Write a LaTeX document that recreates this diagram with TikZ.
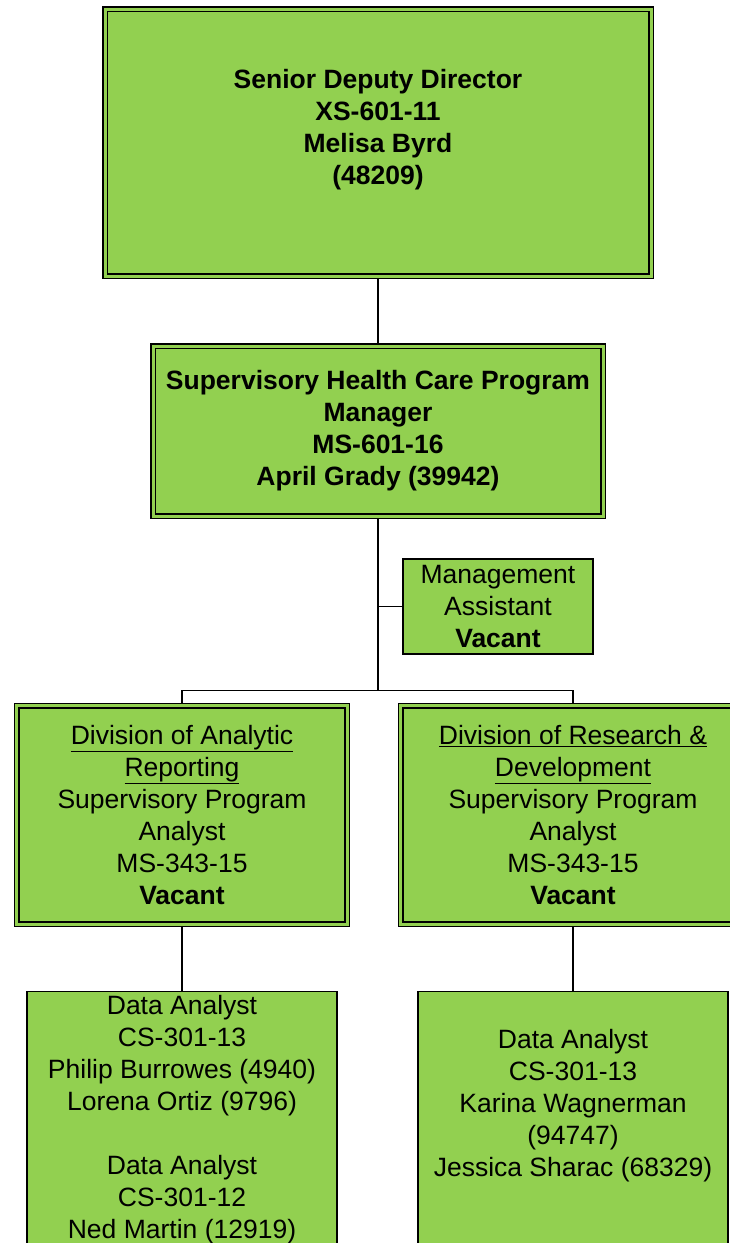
\documentclass[tikz,border=0pt]{standalone}
\usepackage{fontspec}
\setmainfont{Liberation Sans}
\usetikzlibrary{positioning,backgrounds}
\definecolor{boxgreen}{HTML}{92D050}

\begin{document}
\begin{tikzpicture}[x=1pt,y=1pt,
    font=\fontsize{26.5}{32}\selectfont,
    box/.style={draw,fill=boxgreen,line width=1.4pt,align=center,inner sep=0pt,outer sep=0pt},
    dbox/.style={box,double=boxgreen,double distance=3pt,line width=1.3pt},
    bold/.style={font=\fontsize{26.5}{32}\selectfont\bfseries},
    link/.style={line width=1.5pt}]
    \useasboundingbox (0,0) rectangle (730,-1243);
    \clip (0,0) rectangle (730,-1243);

    \node[dbox,bold,minimum width=546pt,minimum height=267pt] (dir) at (378,-142.5)
        {Senior Deputy Director\\XS-601-11\\Melisa Byrd\\(48209)\\ \mbox{}};
    \node[dbox,bold,minimum width=450pt,minimum height=170pt] (mgr) [below=70pt of dir]
        {Supervisory Health Care Program\\Manager\\MS-601-16\\April Grady (39942)};
    \node[box,minimum width=190pt,minimum height=95pt] (asst) [below right=43pt and 25pt of mgr.south]
        {Management\\Assistant\\\textbf{Vacant}};
    \coordinate (jn) at (378,-690.5);

    % divisions
    \node[dbox,minimum width=330.4pt,minimum height=218.4pt] (divar) at (182,-815)
        {\underline{Division of Analytic}\\\underline{Reporting}\\Supervisory Program\\Analyst\\MS-343-15\\\textbf{Vacant}};
    \node[dbox,minimum width=344.4pt,minimum height=218.4pt] (divrd) at (573,-815)
        {\underline{Division of Research \&}\\\underline{Development}\\Supervisory Program\\Analyst\\MS-343-15\\\textbf{Vacant}};

    % analysts
    \node[box,minimum width=310pt,minimum height=256pt] (anar) [below=67pt of divar]
        {Data Analyst\\CS-301-13\\Philip Burrowes (4940)\\Lorena Ortiz (9796)\\[32pt]Data Analyst\\CS-301-12\\Ned Martin (12919)};
    \node[box,minimum width=310pt,minimum height=256pt] (anrd) [below=67pt of divrd]
        {Data Analyst\\CS-301-13\\Karina Wagnerman\\(94747)\\Jessica Sharac (68329)\\ \mbox{}};

    \begin{scope}[on background layer]
        \draw[link] (dir) -- (mgr);
        \draw[link] (mgr.south) -- (jn) -| (divar.north);
        \draw[link] (jn) -| (divrd.north);
        \draw[link] (asst.west) -- (asst.west -| jn);
        \draw[link] (divar) -- (anar);
        \draw[link] (divrd) -- (anrd);
    \end{scope}
\end{tikzpicture}
\end{document}
